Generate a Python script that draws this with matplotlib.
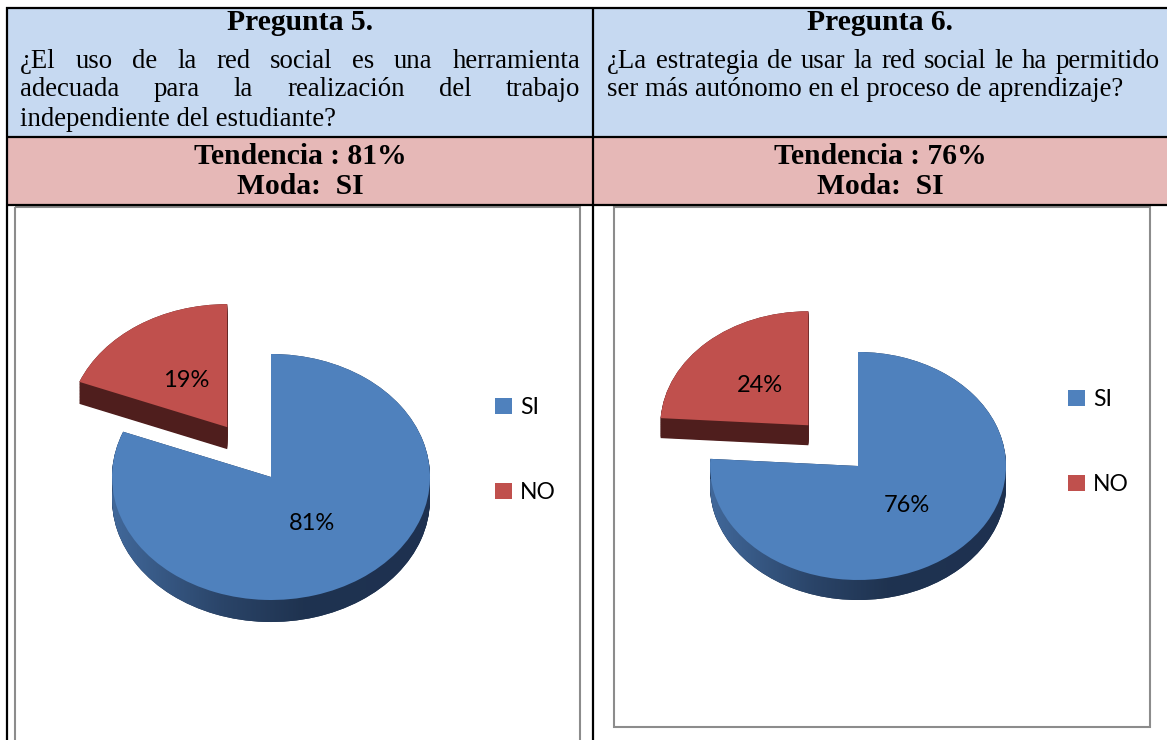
import numpy as np
import matplotlib
matplotlib.use("Agg")
import matplotlib.pyplot as plt
from matplotlib.patches import Rectangle
from matplotlib.colors import LinearSegmentedColormap

# ---- data ----
categorias = ["SI", "NO"]
valores_p5 = [81, 19]
valores_p6 = [76, 24]

titulos = ["Pregunta 5.", "Pregunta 6."]
preguntas_p5 = ["¿El uso de la red social es una herramienta",
                "adecuada para la realización del trabajo",
                "independiente del estudiante?"]
preguntas_p6 = ["¿La estrategia de usar la red social le ha permitido",
                "ser más autónomo en el proceso de aprendizaje?"]
tendencias = ["Tendencia : 81%", "Tendencia : 76%"]
modas = ["Moda:  SI", "Moda:  SI"]

# colours
azul, rojo = "#4F81BD", "#C0504D"
azul_lado, rojo_lado = "#1F3350", "#4F1E1D"
fondo_azul, fondo_rosa = "#C6D9F1", "#E6B8B7"

W, H = 1167, 740
fig = plt.figure(figsize=(W / 100, H / 100), dpi=100)
ax = fig.add_axes([0, 0, 1, 1])
ax.set_xlim(0, W)
ax.set_ylim(H, 0)
ax.axis("off")

serif = "Liberation Serif"
sans = "Lato"
fs_preg = 19.3

# ---- table background & lines ----
ax.add_patch(Rectangle((7, 8), W - 7, 129, color=fondo_azul, lw=0))
ax.add_patch(Rectangle((7, 137), W - 7, 68, color=fondo_rosa, lw=0))
for y in (8, 137, 205):
    ax.plot([6, W], [y, y], color="black", lw=1.6, solid_capstyle="butt")
for x in (7, 593):
    ax.plot([x, x], [7, H], color="black", lw=1.6, solid_capstyle="butt")

# chart frames (grey)
ax.add_patch(Rectangle((15, 207), 565, 560, fill=False, ec="#8C8C8C", lw=1.5))
ax.add_patch(Rectangle((614, 207), 536, 520, fill=False, ec="#8C8C8C", lw=1.5))

# ---- header text ----
centros = [300, 880]
for cx, t, tend, moda in zip(centros, titulos, tendencias, modas):
    ax.text(cx, 23, t, ha="center", va="center", fontsize=21.3, fontweight="bold", family=serif)
    ax.text(cx, 157, tend, ha="center", va="center", fontsize=21.3, fontweight="bold", family=serif)
    ax.text(cx, 187, moda, ha="center", va="center", fontsize=21.3, fontweight="bold", family=serif)


def linea_justificada(linea, x0, x1, y):
    palabras = linea.split()
    tx = [ax.text(x0, y, p, ha="left", va="center", fontsize=fs_preg, family=serif) for p in palabras]
    fig.canvas.draw()
    r = fig.canvas.get_renderer()
    anchos = [t.get_window_extent(r).width for t in tx]
    hueco = ((x1 - x0) - sum(anchos)) / (len(palabras) - 1)
    x = x0
    for t, a in zip(tx, anchos):
        t.set_x(x)
        x += a + hueco


ys = [61, 90, 119]
for i, linea in enumerate(preguntas_p5):
    if i < len(preguntas_p5) - 1:
        linea_justificada(linea, 20, 580, ys[i])
    else:
        ax.text(20, ys[i], linea, ha="left", va="center", fontsize=fs_preg, family=serif)
for i, linea in enumerate(preguntas_p6):
    if i < len(preguntas_p6) - 1:
        linea_justificada(linea, 607, 1160, ys[i])
    else:
        ax.text(607, ys[i], linea, ha="left", va="center", fontsize=fs_preg, family=serif)


# ---- 3D-looking pies ----
grad = LinearSegmentedColormap.from_list(
    "lado", [(0, "#41689A"), (0.35, "#2A4468"), (0.6, "#1F3350"), (1, "#1E3150")])


def pie3d(cx, cy, rx, ry, prof, vals, explode, pctd):
    pax = fig.add_axes([(cx - 1.6 * rx) / W, (H - cy - 1.6 * ry) / H, 3.2 * rx / W, 3.2 * ry / H])
    d = prof / ry
    ex = [0, explode]
    fondo = None
    for k in np.linspace(d, 0, 30):
        w, _ = pax.pie(vals, colors=[azul_lado, rojo_lado], startangle=90, counterclock=False,
                       explode=ex, center=(0, -k), wedgeprops=dict(lw=0))
        if fondo is None:
            fondo = w[0]
    im = pax.imshow(np.linspace(0, 1, 256).reshape(1, -1), cmap=grad, aspect="auto",
                    extent=(-1, 1, -1 - d, 1), zorder=1.5)
    im.set_clip_path(fondo)
    wedges, _, autot = pax.pie(vals, colors=[azul, rojo], startangle=90, counterclock=False,
                               explode=ex, autopct="%1.0f%%", pctdistance=pctd,
                               wedgeprops=dict(lw=0, zorder=2),
                               textprops=dict(fontsize=17, family=sans, color="black"))
    for t in autot:
        t.set_zorder(3)
    pax.set_xlim(-1.6, 1.6)
    pax.set_ylim(-1.6, 1.6)
    pax.set_aspect("auto")
    pax.axis("off")
    return wedges


w5 = pie3d(271, 477, 159, 123, 22, valores_p5, 0.49, 0.46)
w6 = pie3d(858, 466, 148, 114, 20, valores_p6, 0.49, 0.48)

for wedges, x, ym in ((w5, 495, 450), (w6, 1068, 442)):
    fig.legend(wedges, categorias, loc="center left", bbox_to_anchor=(x / W, 1 - ym / H),
               frameon=False, prop=dict(family=sans, size=16.5), handlelength=0.75,
               handleheight=0.75, handletextpad=0.35, labelspacing=2.8,
               borderpad=0, borderaxespad=0)

fig.savefig("out.png", dpi=100)
